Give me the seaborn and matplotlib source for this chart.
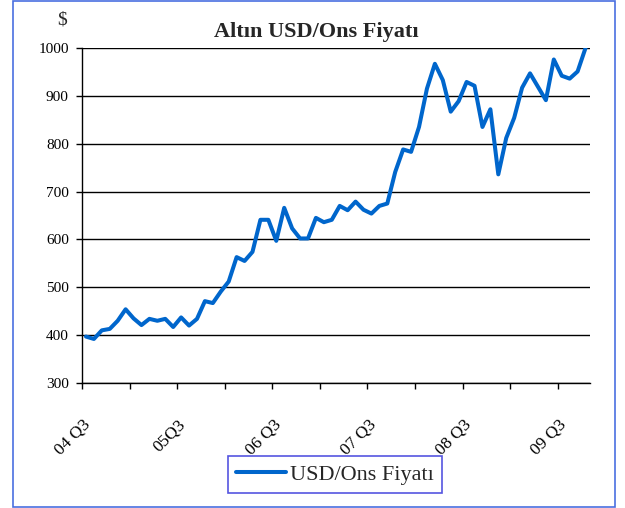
import matplotlib
matplotlib.use("Agg")
import matplotlib.pyplot as plt
import numpy as np
import pandas as pd
import seaborn as sns

# monthly gold price, Jul 2004 - Oct 2009 (USD/oz)
prices = [
    397, 392, 410, 413, 430, 454, 435, 421, 434, 430, 434, 417,
    437, 420, 434, 471, 467, 491, 512, 563, 555, 574, 641, 641,
    597, 666, 623, 602, 602, 645, 636, 641, 670, 661, 679, 662,
    654, 670, 675, 741, 788, 783, 835, 915, 967, 933, 867, 889,
    929, 921, 835, 872, 736, 812, 854, 917, 947, 919, 891, 976,
    942, 936, 951, 1000,
]
tick_labels = ["04 Q3", "05Q3", "06 Q3", "07 Q3", "08 Q3", "09 Q3"]
y_ticks = [300, 400, 500, 600, 700, 800, 900, 1000]

df = pd.DataFrame({"month": np.arange(len(prices)), "price": prices})

sns.set_style("white")
plt.rcParams["font.family"] = ["Liberation Serif", "DejaVu Serif"]

fig = plt.figure(figsize=(6.25, 5.08), dpi=100)
ax = fig.add_axes([0.1312, 0.2461, 0.8120, 0.6594])

sns.lineplot(data=df, x="month", y="price", ax=ax, color="#0066CC",
             linewidth=2.9, label="USD/Ons Fiyatı", legend=False)

ax.set_xlim(-0.5, len(prices) - 0.5)
ax.set_ylim(300, 1000)
ax.set_yticks(y_ticks)
ax.yaxis.grid(True, color="black", linewidth=1)
ax.set_axisbelow(True)
ax.set_xlabel("")
ax.set_ylabel("")

# tick marks every 6 months (minor), labels every 12 (major, no mark)
bounds = np.arange(-0.5, len(prices) - 1, 6)
ax.set_xticks(bounds, minor=True)
ax.set_xticks(bounds[::2] + 1.5)
ax.set_xticklabels(tick_labels, rotation=45, ha="right", va="top", fontsize=12.5)

ax.tick_params(axis="x", which="minor", direction="out", length=4, width=1,
               bottom=True, colors="black")
ax.tick_params(axis="x", which="major", length=0, pad=24, bottom=True,
               colors="black")
ax.tick_params(axis="y", direction="out", length=4, width=1, pad=5.5,
               left=True, labelsize=11, colors="black")

for side in ["top", "right"]:
    ax.spines[side].set_visible(False)
for side in ["left", "bottom"]:
    ax.spines[side].set_color("black")
    ax.spines[side].set_linewidth(1)

fig.text(316 / 625, 1 - 32 / 508, "Altın USD/Ons Fiyatı", ha="center",
         va="center", fontsize=16, fontweight="bold")
fig.text(62 / 625, 1 - 20 / 508, "$", ha="center", va="center", fontsize=14)

handles, labs = ax.get_legend_handles_labels()
leg = fig.legend(handles, labs, loc="center",
                 bbox_to_anchor=(335 / 625, 1 - 474.5 / 508),
                 fontsize=16, frameon=True, fancybox=False,
                 handlelength=2.25, handletextpad=0.2, borderpad=0.35)
leg.get_frame().set_edgecolor("#2a2ad8")
leg.get_frame().set_linewidth(1.2)

# outer frame of the chart area
fig.patches.append(plt.Rectangle((13 / 625, 1 - 506.5 / 508), 602 / 625, 506 / 508,
                                 transform=fig.transFigure, fill=False,
                                 edgecolor="#4a6fe0", linewidth=1.2))

fig.savefig("out.png", dpi=100)
